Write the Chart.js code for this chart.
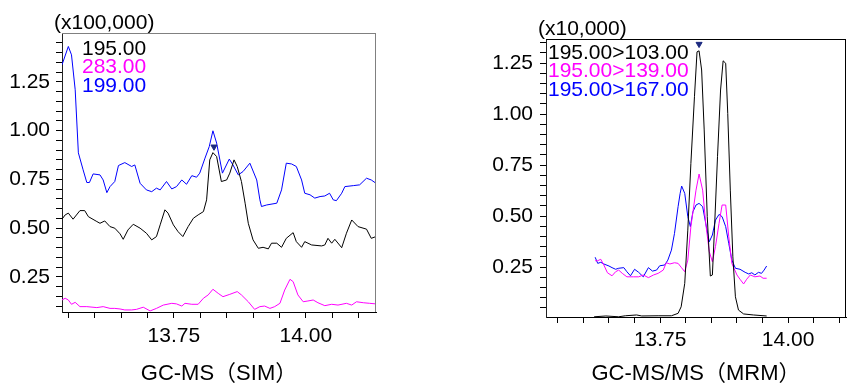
<!DOCTYPE html>
<html>
<head>
<meta charset="utf-8">
<title>GC-MS (SIM) vs GC-MS/MS (MRM)</title>
<script src="https://cdn.jsdelivr.net/npm/chart.js@4.4.1/dist/chart.umd.min.js"></script>
<style>
  html, body { margin: 0; padding: 0; background: #fff; overflow: hidden; width: 851px; height: 385px; }
  canvas { position: absolute; top: 0; }
  #chartSim { left: 0; }
  #chartMrm { left: 460px; }
</style>
</head>
<body>
<canvas id="chartSim" width="430" height="385"></canvas>
<canvas id="chartMrm" width="391" height="385"></canvas>
<script>
// ---- GC-MS (SIM), intensities in x100,000 ----
var simBlackT = [13.538, 13.544, 13.550, 13.559, 13.572, 13.581, 13.588, 13.604, 13.610, 13.619,
  13.629, 13.638, 13.648, 13.654, 13.663, 13.673, 13.686, 13.698, 13.708, 13.717,
  13.724, 13.733, 13.739, 13.749, 13.758, 13.767, 13.777, 13.787, 13.796, 13.806,
  13.812, 13.818, 13.824, 13.831, 13.840, 13.850, 13.856, 13.864, 13.870, 13.878,
  13.885, 13.891, 13.900, 13.910, 13.919, 13.929, 13.935, 13.945, 13.954, 13.963,
  13.976, 13.982, 13.992, 13.998, 14.011, 14.030, 14.036, 14.042, 14.049, 14.055,
  14.068, 14.077, 14.087, 14.099, 14.115, 14.124, 14.133];
var simBlackY = [0.546, 0.568, 0.577, 0.546, 0.590, 0.590, 0.559, 0.534, 0.525, 0.537,
  0.508, 0.500, 0.471, 0.443, 0.491, 0.520, 0.500, 0.474, 0.440, 0.457,
  0.517, 0.594, 0.577, 0.517, 0.482, 0.457, 0.508, 0.551, 0.568, 0.585,
  0.645, 0.850, 0.887, 0.867, 0.739, 0.747, 0.782, 0.850, 0.816, 0.739,
  0.628, 0.525, 0.440, 0.397, 0.402, 0.394, 0.423, 0.423, 0.402, 0.448,
  0.477, 0.431, 0.402, 0.431, 0.414, 0.409, 0.414, 0.448, 0.423, 0.443,
  0.400, 0.474, 0.542, 0.508, 0.495, 0.448, 0.457];

var simPinkT = [13.538, 13.544, 13.550, 13.556, 13.563, 13.572, 13.585, 13.604, 13.616, 13.629,
  13.638, 13.648, 13.657, 13.670, 13.679, 13.692, 13.705, 13.717, 13.730, 13.746,
  13.755, 13.765, 13.771, 13.784, 13.796, 13.806, 13.815, 13.824, 13.834, 13.843,
  13.856, 13.870, 13.878, 13.891, 13.903, 13.913, 13.922, 13.932, 13.941, 13.951,
  13.960, 13.970, 13.976, 13.985, 13.995, 14.004, 14.014, 14.023, 14.036, 14.049,
  14.061, 14.077, 14.087, 14.096, 14.109, 14.121, 14.133];
var simPinkY = [0.132, 0.141, 0.132, 0.110, 0.120, 0.098, 0.098, 0.093, 0.098, 0.089,
  0.089, 0.086, 0.081, 0.081, 0.084, 0.095, 0.076, 0.089, 0.106, 0.115,
  0.112, 0.101, 0.115, 0.110, 0.110, 0.141, 0.158, 0.187, 0.166, 0.149,
  0.161, 0.175, 0.158, 0.123, 0.084, 0.098, 0.101, 0.089, 0.098, 0.115,
  0.183, 0.238, 0.226, 0.158, 0.123, 0.127, 0.132, 0.118, 0.103, 0.110,
  0.106, 0.115, 0.106, 0.123, 0.118, 0.115, 0.112];

var simBlueT = [13.538, 13.550, 13.556, 13.563, 13.569, 13.578, 13.585, 13.590, 13.597, 13.610,
  13.616, 13.623, 13.629, 13.638, 13.645, 13.657, 13.670, 13.676, 13.686, 13.698,
  13.708, 13.717, 13.724, 13.736, 13.746, 13.755, 13.765, 13.774, 13.784, 13.793,
  13.799, 13.809, 13.817, 13.824, 13.831, 13.842, 13.855, 13.862, 13.872, 13.881,
  13.894, 13.907, 13.913, 13.916, 13.926, 13.945, 13.954, 13.963, 13.973, 13.982,
  13.992, 13.998, 14.008, 14.017, 14.027, 14.036, 14.045, 14.052, 14.058, 14.068,
  14.074, 14.090, 14.102, 14.115, 14.124, 14.133];
var simBlueY = [1.337, 1.431, 1.388, 1.209, 0.886, 0.799, 0.734, 0.734, 0.778, 0.773,
  0.747, 0.682, 0.713, 0.739, 0.821, 0.836, 0.816, 0.824, 0.730, 0.696,
  0.687, 0.705, 0.696, 0.739, 0.701, 0.713, 0.747, 0.725, 0.769, 0.761,
  0.782, 0.859, 0.918, 0.999, 0.936, 0.782, 0.854, 0.824, 0.773, 0.790,
  0.833, 0.747, 0.645, 0.611, 0.619, 0.628, 0.696, 0.833, 0.829, 0.816,
  0.747, 0.679, 0.671, 0.654, 0.662, 0.665, 0.679, 0.645, 0.641, 0.679,
  0.713, 0.718, 0.722, 0.756, 0.747, 0.730];

var simMarker = { x: 13.826, y: 0.917 };
var simLabels = ['195.00', '283.00', '199.00'];

// ---- GC-MS/MS (MRM), intensities in x10,000 ----
var mrmBlackT = [13.621, 13.644, 13.669, 13.682, 13.704, 13.714, 13.746, 13.772, 13.785, 13.791,
  13.798, 13.804, 13.810, 13.817, 13.822, 13.826, 13.831, 13.836, 13.842, 13.848,
  13.852, 13.856, 13.862, 13.868, 13.873, 13.878, 13.882, 13.887, 13.892, 13.897,
  13.903, 13.913, 13.932, 13.958];
var mrmBlackY = [0.006, 0.010, 0.006, 0.011, 0.015, 0.010, 0.011, 0.011, 0.023, 0.055,
  0.170, 0.431, 0.758, 1.085, 1.305, 1.310, 1.216, 0.922, 0.497, 0.206,
  0.211, 0.431, 0.791, 1.118, 1.261, 1.249, 1.003, 0.627, 0.300, 0.104,
  0.039, 0.020, 0.015, 0.010];

var mrmPinkT = [13.623, 13.628, 13.634, 13.640, 13.647, 13.656, 13.663, 13.669, 13.676, 13.685,
  13.698, 13.708, 13.717, 13.727, 13.737, 13.746, 13.756, 13.762, 13.769, 13.778,
  13.785, 13.791, 13.798, 13.804, 13.810, 13.820, 13.826, 13.833, 13.839, 13.846,
  13.852, 13.858, 13.865, 13.871, 13.878, 13.884, 13.890, 13.900, 13.906, 13.913,
  13.919, 13.926, 13.935, 13.945, 13.951, 13.958];
var mrmPinkY = [0.281, 0.281, 0.288, 0.260, 0.222, 0.207, 0.227, 0.235, 0.219, 0.202,
  0.202, 0.202, 0.211, 0.198, 0.211, 0.219, 0.235, 0.271, 0.265, 0.271,
  0.268, 0.249, 0.227, 0.284, 0.448, 0.627, 0.706, 0.627, 0.464, 0.325,
  0.276, 0.350, 0.464, 0.554, 0.554, 0.399, 0.268, 0.211, 0.190, 0.167,
  0.190, 0.211, 0.202, 0.206, 0.195, 0.195];

var mrmBlueT = [13.623, 13.628, 13.634, 13.640, 13.650, 13.656, 13.663, 13.669, 13.679, 13.685,
  13.692, 13.700, 13.708, 13.717, 13.727, 13.735, 13.743, 13.749, 13.759, 13.765,
  13.772, 13.778, 13.785, 13.789, 13.792, 13.798, 13.804, 13.809, 13.814, 13.820,
  13.826, 13.833, 13.839, 13.846, 13.852, 13.858, 13.865, 13.871, 13.878, 13.884,
  13.890, 13.897, 13.906, 13.916, 13.923, 13.929, 13.935, 13.942, 13.948, 13.953,
  13.958];
var mrmBlueY = [0.298, 0.268, 0.273, 0.265, 0.255, 0.247, 0.239, 0.244, 0.247, 0.227,
  0.207, 0.239, 0.224, 0.202, 0.247, 0.230, 0.235, 0.256, 0.260, 0.284,
  0.333, 0.415, 0.546, 0.611, 0.647, 0.611, 0.497, 0.448, 0.521, 0.554,
  0.562, 0.546, 0.464, 0.374, 0.407, 0.480, 0.508, 0.497, 0.448, 0.366,
  0.284, 0.244, 0.239, 0.224, 0.216, 0.222, 0.211, 0.224, 0.219, 0.235,
  0.255];

var mrmMarker = { x: 13.826, y: 1.343 };
var mrmLabels = ['195.00>103.00', '195.00>139.00', '195.00>167.00'];

// shared
var traceColors = ['#000000', '#ff00ff', '#0000ff'];
var xMajor = [13.75, 14.00];
var yMajor = [0.25, 0.50, 0.75, 1.00, 1.25];

Chart.defaults.font.family = '"Liberation Sans", Arial, sans-serif';
Chart.defaults.color = '#000';

function tickRange(from, to, step) {
    var out = [];
    for (var v = from; v <= to + 1e-9; v += step) {
        out.push(Math.round(v * 100) / 100);
    }
    return out;
}

function points(ts, ys) {
    return ts.map(function (t, i) { return { x: t, y: ys[i] }; });
}

function trace(ts, ys, color) {
    return {
        data: points(ts, ys),
        showLine: true,
        borderColor: color,
        borderWidth: 1,
        pointRadius: 0,
        tension: 0
    };
}

// unit label, coloured legend text, caption and the top/right frame
var panelText = {
    id: 'panelText',
    afterDraw: function (chart, args, opts) {
        var ctx = chart.ctx;
        var area = chart.chartArea;
        ctx.save();
        ctx.strokeStyle = opts.frameColor;
        ctx.lineWidth = 1;
        ctx.beginPath();
        ctx.moveTo(area.left, area.top + 0.5);
        ctx.lineTo(area.right, area.top + 0.5);
        ctx.moveTo(area.right - 0.5, area.top);
        ctx.lineTo(area.right - 0.5, area.bottom);
        ctx.stroke();

        ctx.font = '21px "Liberation Sans", Arial, sans-serif';
        ctx.textBaseline = 'middle';
        ctx.textAlign = 'left';
        ctx.fillStyle = '#000';
        ctx.fillText(opts.unit, area.left - 8, area.top - 10);
        opts.labels.forEach(function (txt, i) {
            ctx.fillStyle = traceColors[i];
            ctx.fillText(txt, area.left + opts.legendX, area.top + opts.legendY + i * 18.5);
        });

        ctx.font = '22px "Liberation Sans", Arial, "Noto Sans CJK JP", sans-serif';
        ctx.fillStyle = '#000';
        ctx.textAlign = 'center';
        ctx.fillText(opts.caption, opts.captionX, 374);
        ctx.restore();
    }
};

function makeChart(id, p) {
    var xTicks = tickRange(13.55, 14.10, 0.05);
    var yTicks = tickRange(p.yTickFrom, p.yTickTo, 0.05);
    return new Chart(document.getElementById(id), {
        type: 'scatter',
        data: {
            datasets: [
                {
                    data: [p.marker],
                    pointStyle: 'triangle',
                    rotation: 180,
                    pointRadius: 3.5,
                    backgroundColor: '#1c2a80',
                    borderColor: '#1c2a80',
                    borderWidth: 1
                },
                trace(p.blackT, p.blackY, traceColors[0]),
                trace(p.pinkT, p.pinkY, traceColors[1]),
                trace(p.blueT, p.blueY, traceColors[2])
            ]
        },
        options: {
            responsive: false,
            animation: false,
            layout: { padding: p.padding },
            plugins: {
                legend: { display: false },
                tooltip: { enabled: false },
                panelText: p.text
            },
            scales: {
                x: {
                    type: 'linear',
                    min: p.xMin,
                    max: p.xMax,
                    afterBuildTicks: function (s) {
                        s.ticks = xTicks.map(function (v) { return { value: v }; });
                    },
                    afterFit: function (s) { s.height = p.xHeight; },
                    ticks: {
                        autoSkip: false,
                        maxRotation: 0,
                        padding: p.xPad,
                        font: { size: 21 },
                        callback: function (v) {
                            return xMajor.indexOf(v) >= 0 ? v.toFixed(2) : '';
                        }
                    },
                    grid: { drawOnChartArea: false, tickLength: 6, tickColor: '#000' },
                    border: { color: '#000' }
                },
                y: {
                    type: 'linear',
                    min: p.yMin,
                    max: p.yMax,
                    afterBuildTicks: function (s) {
                        s.ticks = yTicks.map(function (v) { return { value: v }; });
                    },
                    afterFit: function (s) { s.width = p.yWidth; },
                    ticks: {
                        autoSkip: false,
                        padding: p.yPad,
                        font: { size: 21 },
                        callback: function (v) {
                            return yMajor.indexOf(v) >= 0 ? v.toFixed(2) : '';
                        }
                    },
                    grid: { drawOnChartArea: false, tickLength: 6, tickColor: '#000' },
                    border: { color: '#222' }
                }
            }
        },
        plugins: [panelText]
    });
}

makeChart('chartSim', {
    blackT: simBlackT, blackY: simBlackY,
    pinkT: simPinkT, pinkY: simPinkY,
    blueT: simBlueT, blueY: simBlueY,
    marker: simMarker,
    xMin: 13.538, xMax: 14.133,
    yMin: 0.0705, yMax: 1.50,
    yTickFrom: 0.10, yTickTo: 1.45,
    padding: { top: 33, right: 54, left: 0, bottom: 0 },
    xHeight: 73, yWidth: 62, xPad: 6, yPad: 6,
    text: {
        unit: '(x100,000)',
        labels: simLabels,
        legendX: 20, legendY: 16,
        caption: 'GC-MS（SIM）',
        captionX: 219,
        frameColor: '#808080'
    }
});

makeChart('chartMrm', {
    blackT: mrmBlackT, blackY: mrmBlackY,
    pinkT: mrmPinkT, pinkY: mrmPinkY,
    blueT: mrmBlueT, blueY: mrmBlueY,
    marker: mrmMarker,
    xMin: 13.527, xMax: 14.113,
    yMin: 0.005, yMax: 1.368,
    yTickFrom: 0.05, yTickTo: 1.35,
    padding: { top: 39, right: 0, left: 0, bottom: 0 },
    xHeight: 68, yWidth: 86, xPad: 5, yPad: 7,
    text: {
        unit: '(x10,000)',
        labels: mrmLabels,
        legendX: 2, legendY: 14,
        caption: 'GC-MS/MS（MRM）',
        captionX: 236,
        frameColor: '#000'
    }
});
</script>
</body>
</html>
